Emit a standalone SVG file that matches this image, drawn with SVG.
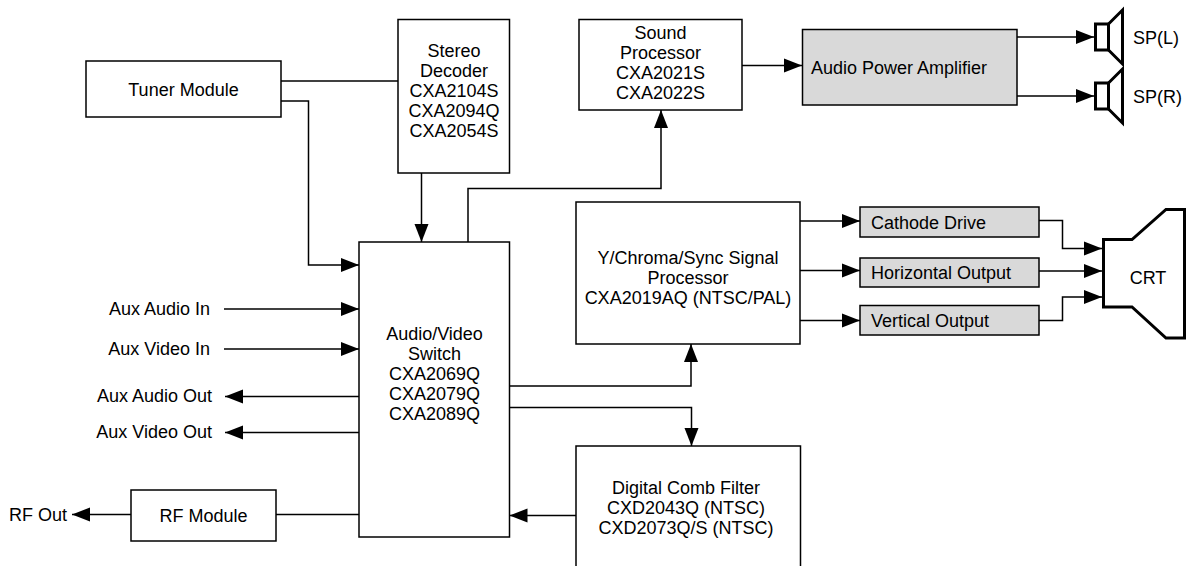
<svg xmlns="http://www.w3.org/2000/svg" width="1186" height="566" viewBox="0 0 1186 566">
<style>
.box{fill:#fff;stroke:#000;stroke-width:1.5}
.gray{fill:#d9d9d9;stroke:#000;stroke-width:1.5}
.t{font-family:"Liberation Sans",Arial,sans-serif;font-size:18px;fill:#000}
.c{text-anchor:middle}
.e{text-anchor:end}
.w{fill:none;stroke:#000;stroke-width:1.5}
.a{marker-end:url(#arr)}
.thick{fill:none;stroke:#000;stroke-width:3;stroke-linejoin:miter}
</style>
<defs>
<marker id="arr" markerUnits="userSpaceOnUse" markerWidth="19" markerHeight="16" refX="18" refY="8" orient="auto">
<path d="M0,1 L18,8 L0,15 z" fill="#000"/>
</marker>
</defs>
<rect width="1186" height="566" fill="#fff"/>

<g id="connectors">
<path class="w" d="M281,81 H398"/>
<path class="w a" d="M281,101 H308.5 V265 H359"/>
<path class="w a" d="M421.5,173 V242"/>
<path class="w a" d="M468,242 V188.5 H661 V110"/>
<path class="w a" d="M742,65.5 H802"/>
<path class="w a" d="M1017,37 H1094"/>
<path class="w a" d="M1017,96 H1094"/>
<path class="w a" d="M224,309 H359"/>
<path class="w a" d="M224,349 H359"/>
<path class="w a" d="M359,396.5 H225"/>
<path class="w a" d="M359,432.5 H225"/>
<path class="w" d="M359,514.5 H276"/>
<path class="w a" d="M131,514.5 H72"/>
<path class="w a" d="M576,515.5 H509.5"/>
<path class="w a" d="M509.5,386 H691 V344"/>
<path class="w a" d="M509.5,407.5 H691.5 V446"/>
<path class="w a" d="M800,221 H860"/>
<path class="w a" d="M800,270.5 H860"/>
<path class="w a" d="M800,320.5 H860"/>
<path class="w a" d="M1039,220.5 H1062.5 V248.5 H1102"/>
<path class="w a" d="M1039,271 H1102"/>
<path class="w a" d="M1039,320.5 H1062.5 V297 H1102"/>
</g>

<g id="tuner">
<rect class="box" x="86" y="61" width="195" height="56"/>
<text class="t c" x="183.5" y="95.5">Tuner Module</text>
</g>

<g id="stereo">
<rect class="box" x="398" y="19.5" width="111.5" height="153.5"/>
<text class="t c" x="454" y="56.5">Stereo</text>
<text class="t c" x="454" y="76.5">Decoder</text>
<text class="t c" x="454" y="96.5">CXA2104S</text>
<text class="t c" x="454" y="116.5">CXA2094Q</text>
<text class="t c" x="454" y="136.5">CXA2054S</text>
</g>

<g id="sound">
<rect class="box" x="579" y="19.5" width="163" height="90.5"/>
<text class="t c" x="660.5" y="39">Sound</text>
<text class="t c" x="660.5" y="59">Processor</text>
<text class="t c" x="660.5" y="79">CXA2021S</text>
<text class="t c" x="660.5" y="99">CXA2022S</text>
</g>

<g id="amp">
<rect class="gray" x="802.5" y="29.5" width="214.5" height="75.5"/>
<text class="t" x="811" y="74">Audio Power Amplifier</text>
</g>

<g id="spl">
<rect class="thick" x="1095.5" y="24" width="13" height="26"/>
<path class="thick" d="M1108.5,24 L1122.5,10 V64 L1108.5,50"/>
<text class="t" x="1133" y="44">SP(L)</text>
</g>

<g id="spr">
<rect class="thick" x="1095.5" y="83" width="13" height="26"/>
<path class="thick" d="M1108.5,83 L1122.5,69 V123 L1108.5,109"/>
<text class="t" x="1133" y="103">SP(R)</text>
</g>

<g id="switch">
<rect class="box" x="359" y="242" width="150.5" height="295"/>
<text class="t c" x="434.5" y="339.5">Audio/Video</text>
<text class="t c" x="434.5" y="359.5">Switch</text>
<text class="t c" x="434.5" y="379.5">CXA2069Q</text>
<text class="t c" x="434.5" y="399.5">CXA2079Q</text>
<text class="t c" x="434.5" y="419.5">CXA2089Q</text>
</g>

<g id="ychroma">
<rect class="box" x="576" y="202" width="224" height="142"/>
<text class="t c" x="688" y="263.5">Y/Chroma/Sync Signal</text>
<text class="t c" x="688" y="283.5">Processor</text>
<text class="t c" x="688" y="303.5">CXA2019AQ (NTSC/PAL)</text>
</g>

<g id="cathode">
<rect class="gray" x="860" y="207" width="179" height="30"/>
<text class="t" x="871" y="228.5">Cathode Drive</text>
</g>
<g id="horizontal">
<rect class="gray" x="860" y="258" width="179" height="29"/>
<text class="t" x="871" y="279">Horizontal Output</text>
</g>
<g id="vertical">
<rect class="gray" x="860" y="305.5" width="179" height="29.5"/>
<text class="t" x="871" y="327">Vertical Output</text>
</g>

<g id="crt">
<path class="thick" d="M1188,209.5 H1166 L1132,239.5 H1103.5 V307 H1132 L1166,338 H1188"/>
<line x1="1184.5" y1="209.5" x2="1184.5" y2="338" stroke="#000" stroke-width="3"/>
<text class="t c" x="1148" y="283.5">CRT</text>
</g>

<g id="comb">
<path class="box" d="M576,570 V446 H800.5 V570"/>
<text class="t c" x="686" y="494">Digital Comb Filter</text>
<text class="t c" x="686" y="514">CXD2043Q (NTSC)</text>
<text class="t c" x="686" y="534">CXD2073Q/S (NTSC)</text>
</g>

<g id="rf">
<rect class="box" x="131" y="490" width="145" height="51"/>
<text class="t c" x="203.5" y="522">RF Module</text>
</g>

<g id="labels">
<text class="t e" x="210" y="315">Aux Audio In</text>
<text class="t e" x="210" y="355">Aux Video In</text>
<text class="t e" x="212" y="402">Aux Audio Out</text>
<text class="t e" x="212" y="438">Aux Video Out</text>
<text class="t" x="9" y="520.5">RF Out</text>
</g>
</svg>
